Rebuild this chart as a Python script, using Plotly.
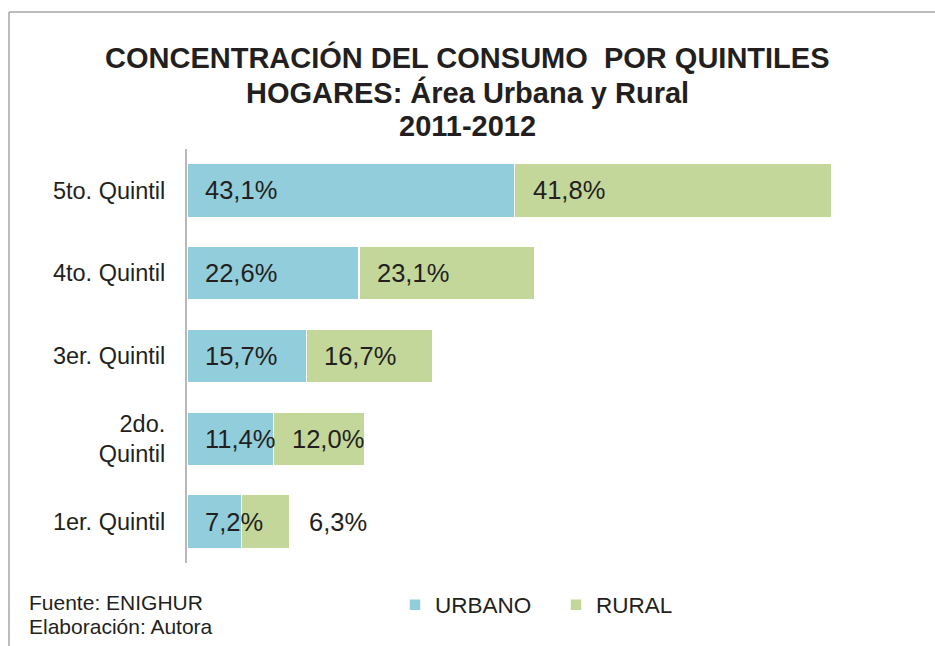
import plotly.graph_objects as go

categories = ["1er. Quintil", "2do.<br>Quintil", "3er. Quintil", "4to. Quintil", "5to. Quintil"]
urbano = [7.2, 11.4, 15.7, 22.6, 43.1]
rural = [6.3, 12.0, 16.7, 23.1, 41.8]
series_names = ["URBANO", "RURAL"]
title_lines = ["CONCENTRACIÓN DEL CONSUMO  POR QUINTILES", "HOGARES: Área Urbana y Rural", "2011-2012"]
notes = ["Fuente: ENIGHUR", "Elaboración: Autora"]

W, H = 935, 646
ML, MT, MR, MB = 187, 149, 30, 83
PW, PH = W - ML - MR, H - MT - MB
FONT = "Liberation Sans, Arial, sans-serif"
TXT = "#231f20"
BLUE = "#92CDDC"
GREEN = "#C4D79B"


def fmt(v):
    return f"{v:.1f}".replace(".", ",") + "%"


def px_x(p):
    return (p - ML) / PW


def px_y(p):
    return 1 - (p - MT) / PH


fig = go.Figure()
fig.add_trace(go.Bar(y=categories, x=urbano, name=series_names[0], orientation="h",
                     marker=dict(color=BLUE, line=dict(color="white", width=1.5)),
                     hoverinfo="skip"))
fig.add_trace(go.Bar(y=categories, x=rural, name=series_names[1], orientation="h",
                     marker=dict(color=GREEN, line=dict(color="white", width=1.5)),
                     hoverinfo="skip"))

LBL = dict(size=25.5, color=TXT, family=FONT)
annotations = []
for cat, u, r in zip(categories, urbano, rural):
    annotations.append(dict(x=0, y=cat, xref="x", yref="y", text=fmt(u), showarrow=False,
                            xanchor="left", xshift=16, font=LBL))
    if r < 7:
        annotations.append(dict(x=u + r, y=cat, xref="x", yref="y", text=fmt(r), showarrow=False,
                                xanchor="left", xshift=17, font=LBL))
    else:
        annotations.append(dict(x=u, y=cat, xref="x", yref="y", text=fmt(r), showarrow=False,
                                xanchor="left", xshift=16, font=LBL))

for line, ypx in zip(title_lines, [58, 92, 126]):
    annotations.append(dict(x=px_x(W / 2), y=px_y(ypx), xref="paper", yref="paper",
                            text="<b>" + line + "</b>", showarrow=False,
                            xanchor="center", yanchor="middle",
                            font=dict(size=29, color=TXT, family=FONT)))

for note, ypx in zip(notes, [602, 626]):
    annotations.append(dict(x=px_x(27), y=px_y(ypx), xref="paper", yref="paper", text=note,
                            showarrow=False, xanchor="left", yanchor="middle",
                            font=dict(size=21, color=TXT, family=FONT)))

shapes = [
    dict(type="line", xref="paper", yref="paper", x0=px_x(9), x1=px_x(W + 5), y0=px_y(12), y1=px_y(12),
         line=dict(color="#a6a6a6", width=1.5)),
    dict(type="line", xref="paper", yref="paper", x0=px_x(9), x1=px_x(9), y0=px_y(12), y1=px_y(H + 5),
         line=dict(color="#a6a6a6", width=1.5)),
]

fig.update_layout(
    width=W, height=H,
    margin=dict(l=ML, r=MR, t=MT, b=MB, autoexpand=False),
    paper_bgcolor="white", plot_bgcolor="white",
    barmode="stack", bargap=0.35,
    xaxis=dict(visible=False, range=[0, PW / 7.6], fixedrange=True),
    yaxis=dict(showline=True, linecolor="#b8b8b8", linewidth=2, showgrid=False, zeroline=False,
               ticks="", ticklabelstandoff=15, tickfont=dict(size=23.5, color=TXT, family=FONT),
               fixedrange=True),
    legend=dict(orientation="h", x=px_x(395), y=px_y(605), xanchor="left", yanchor="middle",
                font=dict(size=22.5, color=TXT, family=FONT), traceorder="normal",
                entrywidth=116, entrywidthmode="pixels"),
    annotations=annotations,
    shapes=shapes,
    showlegend=True,
)

fig.write_html("out.html", config={"displayModeBar": False},
               post_script="document.body.style.margin='0px';document.body.style.padding='0px';")
